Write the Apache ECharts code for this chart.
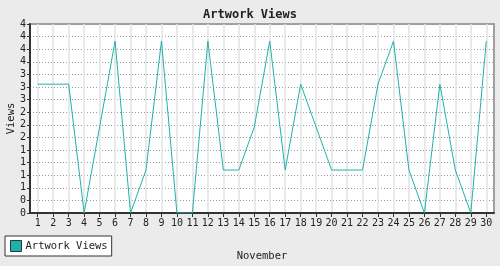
<!DOCTYPE html>
<html>
<head>
<meta charset="utf-8">
<script src="https://cdn.jsdelivr.net/npm/echarts@6/dist/echarts.min.js"></script>
<style>
html,body{margin:0;padding:0;background:#ebebeb;}
#c{width:500px;height:266px;}
</style>
</head>
<body>
<div id="c"></div>
<script>
var days = ['1','2','3','4','5','6','7','8','9','10','11','12','13','14','15','16','17','18','19','20','21','22','23','24','25','26','27','28','29','30'];
var views = [3,3,3,0,2,4,0,1,4,0,0,4,1,1,2,4,1,3,2,1,1,1,3,4,1,0,3,1,0,4];
var seriesName = 'Artwork Views';
var yMax = 4.4;
var ySteps = 15;

var FONT = '"DejaVu Sans Mono", monospace';
var chart = echarts.init(document.getElementById('c'), null, {renderer:'canvas'});
chart.setOption({
  backgroundColor: '#ebebeb',
  animation: false,
  title: {
    text: 'Artwork Views',
    left: 'center',
    top: 4,
    textStyle: {fontFamily: FONT, fontSize: 12, fontWeight: 'bold', color: '#222'}
  },
  legend: {
    left: 5,
    top: 236,
    padding: [4, 4, 4, 5],
    backgroundColor: '#fff',
    borderColor: '#333',
    borderWidth: 1,
    borderRadius: 0,
    itemWidth: 11,
    itemHeight: 11,
    itemGap: 4,
    icon: 'rect',
    data: [{name: seriesName, icon: 'rect', itemStyle: {color: '#20b2aa', borderColor: '#333', borderWidth: 1}}],
    textStyle: {fontFamily: FONT, fontSize: 10.5, color: '#222', padding: [0,0,0,-1]}
  },
  grid: {
    left: 30, top: 24, width: 464, height: 189,
    containLabel: false,
    outerBoundsMode: 'none',
    show: true, backgroundColor: '#fff', borderColor: '#a0a0a0', borderWidth: 2
  },
  xAxis: {
    type: 'category',
    data: days,
    boundaryGap: true,
    name: 'November',
    nameLocation: 'middle',
    nameGap: 38,
    nameMoveOverlap: false,
    nameTextStyle: {fontFamily: FONT, fontSize: 10.5, color: '#222'},
    axisLine: {lineStyle: {color: '#333', width: 2}},
    axisTick: {show: true, alignWithLabel: true, length: 4, lineStyle: {color: '#333'}},
    axisLabel: {interval: 0, fontFamily: FONT, fontSize: 10, color: '#222', margin: 5},
    splitLine: {show: true, alignWithLabel: true, interval: 0, lineStyle: {color: '#e3e3e3', width: 1.5}}
  },
  yAxis: {
    type: 'value',
    min: 0,
    max: yMax,
    interval: yMax / ySteps,
    name: 'Views',
    nameLocation: 'middle',
    nameGap: 13,
    nameMoveOverlap: false,
    nameRotate: 90,
    nameTextStyle: {fontFamily: FONT, fontSize: 10.5, color: '#222'},
    axisLine: {show: true, lineStyle: {color: '#333', width: 2}},
    axisTick: {show: true, length: 3, lineStyle: {color: '#333'}},
    axisLabel: {fontFamily: FONT, fontSize: 10, color: '#222', margin: 4,
      formatter: function(v){ return String(Math.round(v)); }},
    splitLine: {show: true, lineStyle: {color: '#999', type: [1, 2], width: 1}}
  },
  series: [{
    name: seriesName,
    type: 'line',
    data: views,
    symbol: 'none',
    lineStyle: {color: '#20b2aa', width: 1},
    itemStyle: {color: '#20b2aa'}
  }]
});
</script>
</body>
</html>
